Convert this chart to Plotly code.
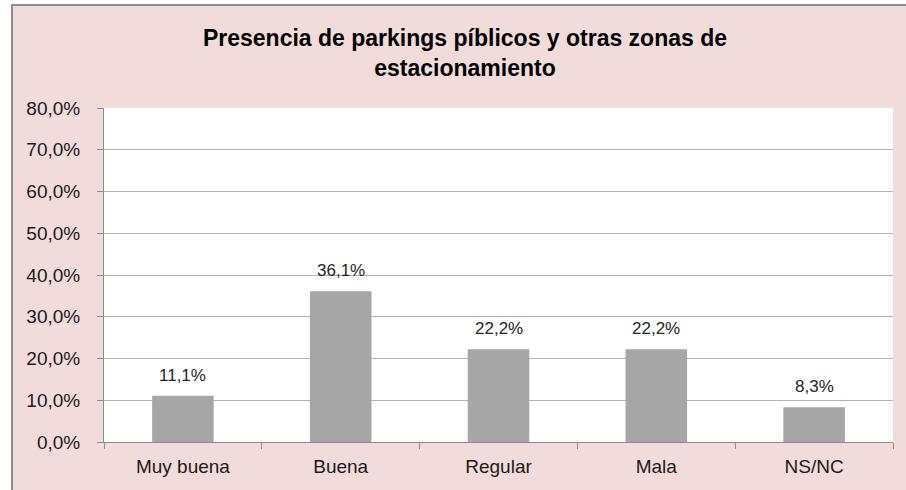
import plotly.graph_objects as go

categories = ["Muy buena", "Buena", "Regular", "Mala", "NS/NC"]
values = [0.111, 0.361, 0.222, 0.222, 0.083]
labels = ["11,1%", "36,1%", "22,2%", "22,2%", "8,3%"]
title_text = "Presencia de parkings píblicos y otras zonas de<br>estacionamiento"

W, H = 906, 490
ML, MR, MT, MB = 104, 13, 108, 48
pw, ph = W - ML - MR, H - MT - MB

def px_to_paper_x(px):
    return (px - ML) / pw

def px_to_paper_y(py):
    return (H - MB - py) / ph

font_family = "Liberation Sans, Arial, sans-serif"

fig = go.Figure(
    go.Bar(
        x=categories,
        y=values,
        marker=dict(color="#a6a6a6", line=dict(width=0)),
        width=0.39,
        hoverinfo="skip",
    )
)

for c, v, t in zip(categories, values, labels):
    fig.add_annotation(
        x=c, y=v, text=t, showarrow=False, yanchor="bottom", yshift=9,
        font=dict(family=font_family, size=17, color="#262626"),
    )

# pink chart area with gray frame, then white plot area on top of it
fig.add_shape(
    type="rect", xref="paper", yref="paper", layer="below",
    x0=px_to_paper_x(12), x1=px_to_paper_x(W + 200),
    y0=px_to_paper_y(H + 200), y1=px_to_paper_y(5),
    fillcolor="#f2dcdb", line=dict(color="#8c8c8c", width=2),
)
fig.add_shape(
    type="rect", xref="paper", yref="paper", layer="below",
    x0=0, x1=1, y0=0, y1=1,
    fillcolor="#ffffff", line=dict(width=0),
)

fig.update_layout(
    width=W, height=H,
    margin=dict(l=ML, r=MR, t=MT, b=MB),
    paper_bgcolor="#ffffff",
    plot_bgcolor="#ffffff",
    separators=",.",
    showlegend=False,
    title=dict(
        text="<b>" + title_text + "</b>",
        x=465 / W, xref="container", xanchor="center",
        y=1 - 46 / H, yref="container", yanchor="middle",
        font=dict(family=font_family, size=23, color="#000000"),
    ),
    xaxis=dict(
        showgrid=False,
        showline=True, linecolor="#8c8c8c", linewidth=1,
        ticks="outside", tickson="boundaries", ticklen=6, tickcolor="#8c8c8c",
        ticklabelstandoff=7,
        tickfont=dict(family=font_family, size=19, color="#1a1a1a"),
        fixedrange=True,
    ),
    yaxis=dict(
        range=[0, 0.8], dtick=0.1, tickformat=".1%",
        showgrid=True, gridcolor="#b3b3b3", gridwidth=1,
        showline=True, linecolor="#8c8c8c", linewidth=1,
        ticks="outside", ticklen=6, tickcolor="#8c8c8c",
        ticklabelstandoff=13,
        tickfont=dict(family=font_family, size=19, color="#1a1a1a"),
        zeroline=False,
        fixedrange=True,
    ),
)

fig.write_html("out.html")
